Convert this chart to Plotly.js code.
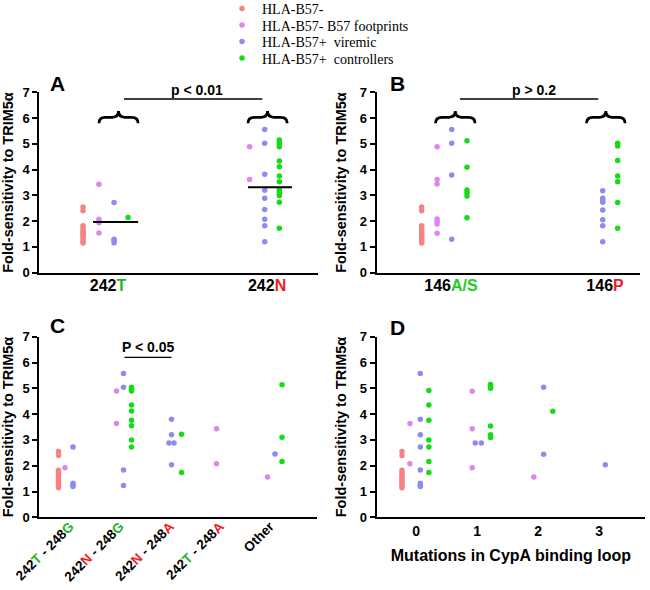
<!DOCTYPE html>
<html><head><meta charset="utf-8">
<script src="https://cdn.plot.ly/plotly-3.0.1.min.js"></script>
<style>html,body{margin:0;padding:0;background:#fff}#chart{width:650px;height:590px}</style>
</head><body><div id="chart"></div>
<script>
// ---------------- data ----------------
const groupNames = ['HLA-B57-', 'HLA-B57- B57 footprints', 'HLA-B57+&nbsp; viremic', 'HLA-B57+&nbsp; controllers'];
const redColumn = [2.55, 2.4, 1.82, 1.72, 1.62, 1.55, 1.48, 1.4, 1.32, 1.22, 1.15];

// Panel A : residue 242
const catsA = ['242T', '242N'];
const tickA = ['242<span style="color:#22B422">T</span>', '242<span style="color:#F01C1C">N</span>'];
const A_neg = [redColumn, []];
const A_fp  = [[3.43, 2.07, 2.0, 1.94, 1.54], [4.89, 3.62]];
const A_vir = [[2.72, 1.3, 1.25, 1.16], [5.56, 5.02, 3.82, 3.2, 2.89, 2.45, 2.07, 1.82, 1.2]];
const A_ctl = [[2.14], [5.15, 5.02, 4.89, 4.33, 4.11, 3.75, 3.53, 3.21, 3.1, 3.0, 2.73, 1.72]];
const A_median = [1.97, 3.32];
const A_p = 'p &lt; 0.01';

// Panel B : residue 146
const catsB = ['146A/S', '146P'];
const tickB = ['146<span style="color:#22CC22">A/S</span>', '146<span style="color:#F01C1C">P</span>'];
const B_neg = [redColumn, []];
const B_fp  = [[4.89, 3.62, 3.44, 2.08, 1.99, 1.89, 1.53], []];
const B_vir = [[5.56, 5.02, 3.79, 1.3], [3.18, 2.89, 2.8, 2.73, 2.43, 2.05, 1.82, 1.2]];
const B_ctl = [[5.12, 4.09, 3.21, 3.1, 2.98, 2.13], [5.02, 4.92, 4.35, 3.75, 3.53, 2.72, 1.72]];
const B_p = 'p &gt; 0.2';

// Panel C : 242 / 248 combinations
const catsC = ['242T - 248G', '242N - 248G', '242N - 248A', '242T - 248A', 'Other'];
const tickC = [
  '242<span style="color:#22B422">T</span> - 248<span style="color:#22B422">G</span>',
  '242<span style="color:#F01C1C">N</span> - 248<span style="color:#22B422">G</span>',
  '242<span style="color:#F01C1C">N</span> - 248<span style="color:#F01C1C">A</span>',
  '242<span style="color:#22B422">T</span> - 248<span style="color:#F01C1C">A</span>',
  'Other'];
const C_neg = [redColumn, [], [], [], []];
const C_fp  = [[1.92], [4.9, 3.64], [], [3.43, 2.08], [1.56]];
const C_vir = [[2.72, 1.32, 1.25, 1.19], [5.57, 5.04, 1.83, 1.23], [3.8, 3.2, 2.88, 2.88, 2.04], [], [2.45]];
const C_ctl = [[], [5.04, 4.96, 4.9, 4.35, 4.12, 3.76, 3.55, 3.0, 2.72], [3.22, 1.74], [], [5.14, 3.1, 2.16]];
const C_p = 'P &lt; 0.05';

// Panel D : mutations in CypA binding loop
const catsD = [0, 1, 2, 3];
const D_neg = [redColumn, [], [], []];
const D_fp  = [[3.64, 2.08], [4.89, 3.43, 1.92], [1.56], []];
const D_vir = [[5.57, 3.8, 3.2, 2.72, 1.83, 1.32, 1.25, 1.19], [2.88, 2.88], [5.04, 2.44], [2.04]];
const D_ctl = [[4.91, 4.35, 3.76, 3.0, 2.72, 2.16, 1.74], [5.15, 5.06, 5.0, 3.54, 3.2, 3.09], [4.11], []];

const yTitle = 'Fold-sensitivity to TRIM5α';
const xTitleD = 'Mutations in CypA binding loop';

// ---------------- style ----------------
const colors = ['#F68282', '#DC86EE', '#8C8CF0', '#13DD13'];
const SANS = 'Liberation Sans, Arial, sans-serif';
const SERIF = 'Liberation Serif, Times New Roman, serif';
const PW = 650, PH = 590;
const px = v => v / PW, py = v => 1 - v / PH;

// horizontal offsets (per category, per group) within each panel
const offA = [[-0.157, -0.057, 0.038, 0.126], [0, -0.11, -0.015, 0.077]];
const offB = [[-0.19, -0.09, 0.005, 0.104], [0, 0, -0.015, 0.082]];
const offC = [[-0.33, -0.2, -0.04, 0.13], [-0.33, -0.17, -0.03, 0.13], [-0.33, -0.17, -0.07, 0.13],
              [-0.33, -0.17, -0.03, 0.13], [-0.33, -0.15, 0.0, 0.14]];
const offD = [[-0.23, -0.1, 0.07, 0.21], [-0.23, -0.08, 0.02, 0.22], [-0.23, -0.07, 0.09, 0.24], [-0.23, -0.07, 0.1, 0.24]];

function buildXY(groupVals, offs, spread) {
  const x = [], y = [];
  groupVals.forEach((vals, ci) => {
    const seen = {};
    vals.forEach(v => {
      const n = vals.filter(w => w === v).length;
      const k = seen[v] = (seen[v] === undefined ? 0 : seen[v] + 1);
      x.push(ci + offs[ci] + (n > 1 ? (k - (n - 1) / 2) * spread : 0));
      y.push(v);
    });
  });
  return {x, y};
}

const traces = [];
const legendIds = ['legend', 'legend2', 'legend3', 'legend4'];
function addPanel(sets, offs, xa, ya, spread, withLegend) {
  sets.forEach((gv, g) => {
    const xy = buildXY(gv, offs.map(o => o[g]), spread);
    traces.push({
      type: 'scatter', mode: 'markers', x: xy.x, y: xy.y,
      xaxis: xa, yaxis: ya, name: groupNames[g],
      marker: {color: colors[g], size: 5.5, line: {width: 0}},
      showlegend: withLegend, legend: legendIds[g], hoverinfo: 'y'
    });
  });
}
addPanel([A_neg, A_fp, A_vir, A_ctl], offA, 'x', 'y', 0.03, true);
addPanel([B_neg, B_fp, B_vir, B_ctl], offB, 'x2', 'y2', 0.03, false);
addPanel([C_neg, C_fp, C_vir, C_ctl], offC, 'x3', 'y3', 0.1, false);
addPanel([D_neg, D_fp, D_vir, D_ctl], offD, 'x4', 'y4', 0.1, false);

// median bars in panel A
const medSpan = [[-0.094, 0.189], [-0.12, 0.157]];
A_median.forEach((m, i) => {
  traces.push({type: 'scatter', mode: 'lines', x: [i + medSpan[i][0], i + medSpan[i][1]], y: [m, m],
    xaxis: 'x', yaxis: 'y', line: {color: 'black', width: 2}, showlegend: false, hoverinfo: 'skip'});
});

// ---------------- layout ----------------
const tickFont = {family: SANS, size: 13, color: 'black', weight: 'bold'};
function yAxis(domain) {
  return {domain, range: [0, 7], dtick: 1, showline: true, linecolor: 'black', linewidth: 2,
    ticks: 'outside', ticklen: 5, tickwidth: 2, tickcolor: 'black', showgrid: false, zeroline: false,
    tickfont: tickFont, fixedrange: true, automargin: false,
    title: {text: yTitle, font: {family: SANS, size: 14.5, color: 'black', weight: 'bold'}, standoff: 10}};
}
function xAxis(domain, range, tickvals, ticktext, size, angle) {
  return {domain, range, tickmode: 'array', tickvals, ticktext, showline: true, linecolor: 'black', linewidth: 2,
    ticks: '', showgrid: false, zeroline: false, tickangle: angle, automargin: false,
    tickfont: {family: SANS, size, color: 'black', weight: 'bold'}, fixedrange: true};
}
const domTop = [py(272.7), py(92.3)], domBot = [py(517.3), py(336.7)];
const domL = [px(39.3), px(318)], domR = [px(376.7), px(640)];
const domLC = [px(39.3), px(317)], domRD = [px(376.7), px(645)];

function brace(xref, yref, L, R) {
  const M = (L + R) / 2, w = 0.16 * (R - L), yb = 5.8, ym = 6.03, yt = 6.27;
  return {type: 'path', xref, yref, line: {color: 'black', width: 2.8},
    path: `M ${L},${yb} Q ${L},${ym} ${L + w},${ym} L ${M - w},${ym} Q ${M},${ym} ${M},${yt} ` +
          `Q ${M},${ym} ${M + w},${ym} L ${R - w},${ym} Q ${R},${ym} ${R},${yb}`};
}
function pline(xref, yref, x0, x1, y) {
  return {type: 'line', xref, yref, x0, x1, y0: y, y1: y, line: {color: 'black', width: 1.3}};
}

const shapes = [
  brace('x', 'y', -0.057, 0.189), brace('x', 'y', 0.88, 1.126),
  pline('x', 'y', 0.1, 0.97, 6.74),
  brace('x2', 'y2', -0.1, 0.156), brace('x2', 'y2', 0.88, 1.13),
  pline('x2', 'y2', 0.058, 0.956, 6.74),
  pline('x3', 'y3', 0.99, 1.93, 6.2)
];
const annFont = {family: SANS, size: 14, color: 'black', weight: 'bold'};
const letterFont = {family: SANS, size: 21, color: 'black', weight: 'bold'};
const ann = (xref, yref, x, y, text, font) =>
  ({xref, yref, x, y, text, font, showarrow: false, xanchor: 'center', yanchor: 'middle'});
const annotations = [
  ann('paper', 'paper', px(197), py(90), A_p, annFont),
  ann('paper', 'paper', px(534), py(90), B_p, annFont),
  ann('x3', 'y3', 1.47, 6.62, C_p, annFont),
  ann('paper', 'paper', px(57), py(83), 'A', letterFont),
  ann('paper', 'paper', px(397), py(83), 'B', letterFont),
  ann('paper', 'paper', px(57), py(325), 'C', letterFont),
  ann('paper', 'paper', px(397), py(327), 'D', letterFont)
];

function legendAt(yc) {
  return {x: px(222), y: py(yc), xanchor: 'left', yanchor: 'middle', bgcolor: 'rgba(0,0,0,0)', borderwidth: 0,
    font: {family: SERIF, size: 14, color: 'black'}, itemclick: false, itemdoubleclick: false};
}

const layout = {
  width: PW, height: PH, margin: {l: 0, r: 0, t: 0, b: 0, pad: 0, autoexpand: false},
  paper_bgcolor: 'white', plot_bgcolor: 'white',
  xaxis: Object.assign(xAxis(domL, [-0.432, 1.32], [0, 1], tickA, 16, 0), {ticklabelstandoff: -3}),
  yaxis: yAxis(domTop),
  xaxis2: Object.assign(xAxis(domR, [-0.482, 1.227], [0, 1], tickB, 16, 0), {ticklabelstandoff: -3}),
  yaxis2: Object.assign(yAxis(domTop), {anchor: 'x2'}),
  xaxis3: Object.assign(xAxis(domLC, [-0.714, 4.84], [0, 1, 2, 3, 4], tickC, 13.5, -45),
    {ticklabelstandoff: -6, ticklabelshift: -5}),
  yaxis3: Object.assign(yAxis(domBot), {anchor: 'x3'}),
  xaxis4: Object.assign(xAxis(domRD, [-0.644, 3.75], catsD, catsD.map(String), 14, 0),
    {title: {text: xTitleD, font: {family: SANS, size: 16, color: 'black', weight: 'bold'}, standoff: 12}}),
  yaxis4: Object.assign(yAxis(domBot), {anchor: 'x4'}),
  legend: legendAt(9), legend2: legendAt(25.5), legend3: legendAt(42), legend4: legendAt(58.5),
  shapes, annotations, showlegend: true
};
layout.xaxis.anchor = 'y'; layout.xaxis2.anchor = 'y2'; layout.xaxis3.anchor = 'y3'; layout.xaxis4.anchor = 'y4';
layout.yaxis.anchor = 'x';

Plotly.newPlot('chart', traces, layout, {displayModeBar: false, staticPlot: true});
</script></body></html>
